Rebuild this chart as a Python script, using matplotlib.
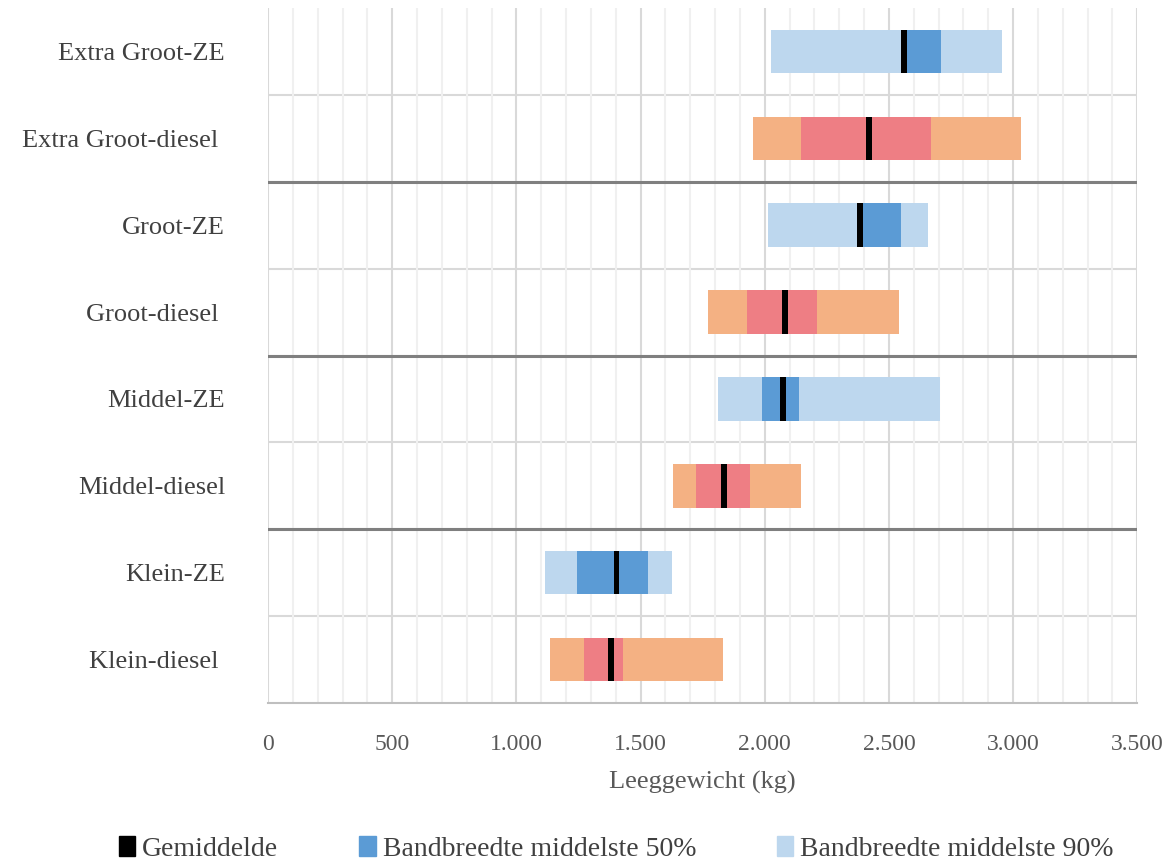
import matplotlib.pyplot as plt
from matplotlib.ticker import MultipleLocator, FuncFormatter
from matplotlib.patches import Patch

# data (kg), bottom to top
categories = ['Klein-diesel ', 'Klein-ZE', 'Middel-diesel', 'Middel-ZE',
              'Groot-diesel ', 'Groot-ZE', 'Extra Groot-diesel ', 'Extra Groot-ZE']
is_ze = [False, True, False, True, False, True, False, True]
p05 = [1136, 1116, 1631, 1812, 1772, 2014, 1953, 2026]
p25 = [1273, 1244, 1724, 1990, 1929, 2376, 2147, 2555]
p75 = [1430, 1530, 1941, 2139, 2211, 2549, 2670, 2710]
p95 = [1832, 1627, 2147, 2706, 2541, 2658, 3033, 2956]
gemiddelde = [1381, 1402, 1836, 2074, 2082, 2384, 2420, 2561]

c90_ze, c50_ze = '#BDD7EE', '#5B9BD5'
c90_d, c50_d = '#F4B183', '#EE7E84'

plt.rcParams['font.family'] = ['Liberation Serif', 'DejaVu Serif']

fig = plt.figure(figsize=(11.76, 8.61), dpi=100)
ax = fig.add_axes([0.228, 0.1835, 0.739, 0.8072])

y = list(range(len(categories)))
h = 0.5
for i in y:
    c90 = c90_ze if is_ze[i] else c90_d
    c50 = c50_ze if is_ze[i] else c50_d
    ax.barh(i, p95[i] - p05[i], left=p05[i], height=h, color=c90, zorder=3)
    ax.barh(i, p75[i] - p25[i], left=p25[i], height=h, color=c50, zorder=4)
    ax.barh(i, 22, left=gemiddelde[i] - 11, height=h, color='black', zorder=5)

ax.set_xlim(0, 3500)
ax.set_ylim(-0.5, 7.5)
ax.xaxis.set_major_locator(MultipleLocator(500))
ax.xaxis.set_minor_locator(MultipleLocator(100))
ax.xaxis.set_major_formatter(FuncFormatter(lambda v, p: f'{int(v):,}'.replace(',', '.')))
ax.grid(axis='x', which='major', color='#D9D9D9', lw=1.5, zorder=0)
ax.grid(axis='x', which='minor', color='#F0F0F0', lw=1.5, zorder=0)

# row separators
for b in [i + 0.5 for i in range(len(categories) - 1)]:
    ax.axhline(b, color='#D9D9D9', lw=1.5, zorder=1)
for b in [1.5, 3.5, 5.5]:
    ax.axhline(b, color='#7F7F7F', lw=2.2, zorder=2)

ax.set_yticks(y)
ax.set_yticklabels(categories)
ax.tick_params(axis='y', length=0, pad=31, labelsize=19, labelcolor='#404040')
ax.tick_params(axis='x', which='both', length=0, pad=22, labelsize=17, labelcolor='#595959')
for s in ['top', 'right', 'left']:
    ax.spines[s].set_visible(False)
ax.spines['bottom'].set_color('#BFBFBF')
ax.spines['bottom'].set_linewidth(1.5)
ax.set_xlabel('Leeggewicht (kg)', fontsize=19, color='#595959', labelpad=12)

handles = [Patch(color='black'), Patch(color=c50_ze), Patch(color=c90_ze)]
labels = ['Gemiddelde', 'Bandbreedte middelste 50%', 'Bandbreedte middelste 90%']
leg = fig.legend(handles, labels, loc='lower center', bbox_to_anchor=(0.524, -0.03),
                 ncol=3, frameon=False, fontsize=20, handlelength=0.6, handleheight=0.7,
                 handletextpad=0.25, columnspacing=2.9)
for t in leg.get_texts():
    t.set_color('#404040')

fig.savefig('out.png', dpi=100)
